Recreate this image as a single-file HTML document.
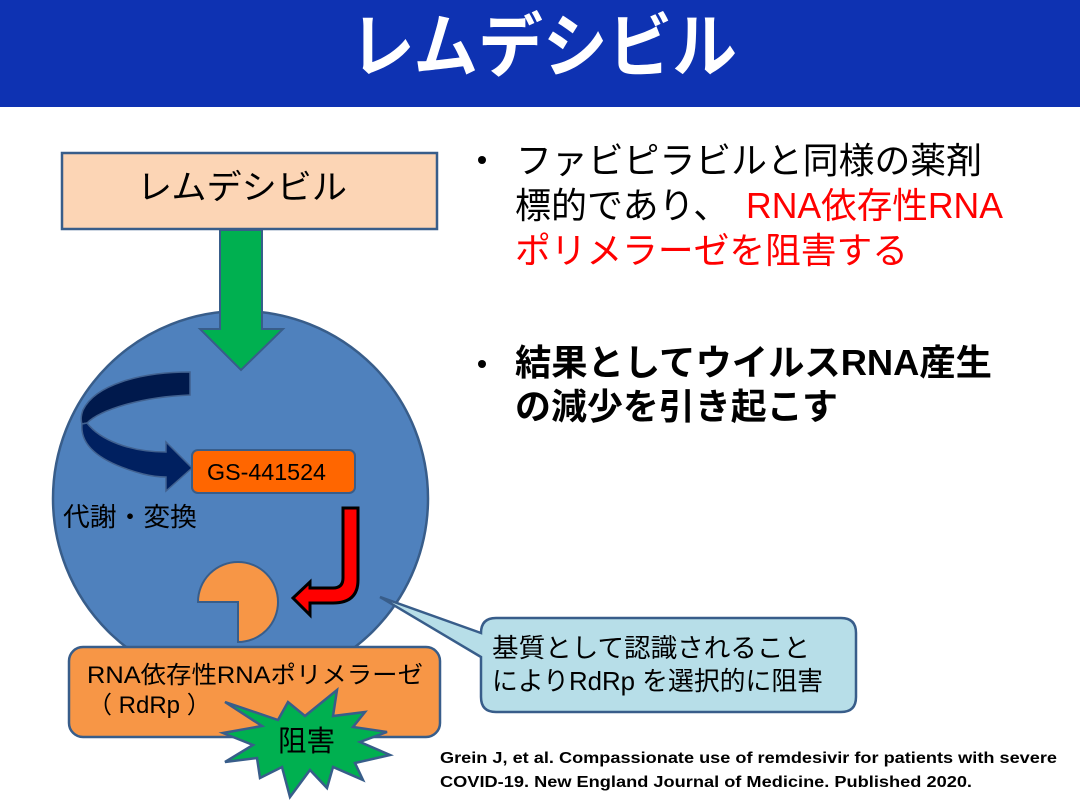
<!DOCTYPE html>
<html>
<head>
<meta charset="utf-8">
<style>
html,body{margin:0;padding:0;background:#fff;}
svg{display:block;}
text{font-family:"Liberation Sans","Noto Sans CJK JP",sans-serif;}
</style>
</head>
<body>
<svg width="1080" height="810" viewBox="0 0 1080 810" xmlns="http://www.w3.org/2000/svg">
  <!-- header -->
  <rect x="0" y="0" width="1080" height="107" fill="#0E32B2"/>
  <text x="350" y="71" font-size="70" font-weight="bold" fill="#fff" textLength="387" lengthAdjust="spacingAndGlyphs">レムデシビル</text>

  <!-- big cell circle -->
  <circle cx="240.5" cy="498.5" r="187.5" fill="#4F81BD" stroke="#385D8A" stroke-width="2.5"/>

  <!-- top box -->
  <rect x="62" y="153" width="375" height="76" fill="#FCD5B5" stroke="#385D8A" stroke-width="2.5"/>
  <text x="137" y="199" font-size="34" fill="#000" textLength="210" lengthAdjust="spacingAndGlyphs">レムデシビル</text>

  <!-- green arrow -->
  <path d="M220,230 L262,230 L262,329 L283,329 L241,370 L200,329 L220,329 Z" fill="#00B050" stroke="#385D8A" stroke-width="2"/>

  <!-- dark curved arrow: back band -->
  <path d="M190,372 C140,372 95,385 83,410 Q80,418 82,424 L87,423 C100,410 140,397 190,395 Z" fill="#00194C" stroke="#41618F" stroke-width="1.5"/>
  <!-- front band with head -->
  <path d="M82,424 C80,445 98,462 143,474 Q155,477 166,477 L166,491 L192,468 L166,442 L166,452 C130,452 100,440 87,423 Z" fill="#002060" stroke="#41618F" stroke-width="1.5"/>

  <!-- GS-441524 box -->
  <rect x="192" y="450" width="163" height="43" rx="6" ry="6" fill="#FF6600" stroke="#385D8A" stroke-width="2"/>
  <text x="207" y="480" font-size="23" fill="#000" textLength="119" lengthAdjust="spacingAndGlyphs">GS-441524</text>

  <!-- 代謝・変換 -->
  <text x="63" y="526" font-size="26" fill="#000" textLength="134" lengthAdjust="spacingAndGlyphs">代謝・変換</text>

  <!-- red J arrow -->
  <path d="M343,508 L358,508 L358,580 Q358,603 333,603 L310,603 L310,615 L293,598 L310,582 L310,588 L333,588 Q343,588 343,578 Z" fill="#FF0000" stroke="#000" stroke-width="3" stroke-linejoin="miter"/>

  <!-- pac-man (RdRp) -->
  <path d="M238,602 L198,602 A40,40 0 1 1 238,642 Z" fill="#F79646" stroke="#385D8A" stroke-width="2"/>

  <!-- RdRp box -->
  <rect x="69" y="647" width="371" height="90" rx="14" ry="14" fill="#F79646" stroke="#385D8A" stroke-width="2.5"/>
  <text x="87" y="683" font-size="24" fill="#000" textLength="336" lengthAdjust="spacingAndGlyphs">RNA依存性RNAポリメラーゼ</text>
  <text x="88" y="713" font-size="24" fill="#000">（ RdRp ）</text>

  <!-- green star -->
  <path d="M225,702 L278,720 L288,702 L305,716 L337,690 L333,716 L365,712 L353,727 L387,732 L360,742 L390,755 L355,763 L363,780 L333,767 L327,788 L310,770 L290,797 L282,767 L260,778 L257,758 L225,762 L253,745 L223,733 L262,726 Z" fill="#00B050" stroke="#385D8A" stroke-width="2.5" stroke-linejoin="miter"/>
  <text x="278" y="751" font-size="29" fill="#000" textLength="57" lengthAdjust="spacingAndGlyphs">阻害</text>

  <!-- callout -->
  <path d="M496,618 L841,618 Q856,618 856,633 L856,697 Q856,712 841,712 L496,712 Q481,712 481,697 L481,657 L380,597 L481,633 Q481,618 496,618 Z" fill="#B7DEE8" stroke="#385D8A" stroke-width="2.5"/>
  <text x="492" y="657" font-size="26" fill="#000" textLength="318" lengthAdjust="spacingAndGlyphs">基質として認識されること</text>
  <text x="492" y="690" font-size="26" fill="#000" textLength="331" lengthAdjust="spacingAndGlyphs">によりRdRp を選択的に阻害</text>

  <!-- right bullets -->
  <circle cx="482" cy="160" r="4" fill="#000"/>
  <text x="516" y="173" font-size="36" fill="#000" textLength="466" lengthAdjust="spacingAndGlyphs">ファビピラビルと同様の薬剤</text>
  <text x="515" y="218" font-size="36" fill="#000">標的であり、</text>
  <text x="746" y="218" font-size="36" fill="#FF0000" textLength="257" lengthAdjust="spacingAndGlyphs">RNA依存性RNA</text>
  <text x="515" y="263" font-size="36" fill="#FF0000" textLength="393" lengthAdjust="spacingAndGlyphs">ポリメラーゼを阻害する</text>

  <circle cx="482" cy="364" r="4" fill="#000"/>
  <text x="515" y="375" font-size="36" font-weight="bold" fill="#000" textLength="477" lengthAdjust="spacingAndGlyphs">結果としてウイルスRNA産生</text>
  <text x="515" y="419" font-size="36" font-weight="bold" fill="#000" textLength="323" lengthAdjust="spacingAndGlyphs">の減少を引き起こす</text>

  <!-- citation -->
  <text x="440" y="763" font-size="15.5" font-weight="bold" fill="#000" textLength="617" lengthAdjust="spacingAndGlyphs">Grein J, et al. Compassionate use of remdesivir for patients with severe</text>
  <text x="440" y="787" font-size="15.5" font-weight="bold" fill="#000" textLength="532" lengthAdjust="spacingAndGlyphs">COVID-19. New England Journal of Medicine. Published 2020.</text>
</svg>
</body>
</html>
